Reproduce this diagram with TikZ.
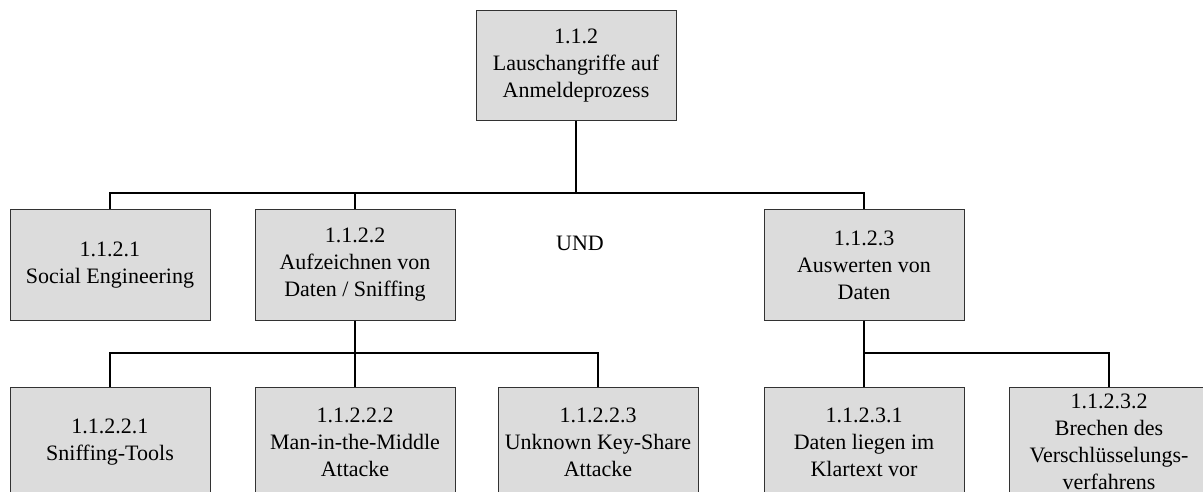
\documentclass[tikz,border=0pt]{standalone}
\usepackage{fontspec}
\setmainfont{Liberation Serif}
\definecolor{boxfill}{RGB}{220,220,220}
\definecolor{boxline}{RGB}{50,50,50}
\tikzset{
  tbox/.style={draw=boxline, line width=1pt, fill=boxfill, minimum width=200pt, minimum height=110pt, inner sep=0pt, align=center, font=\fontsize{22}{27}\selectfont},
  conn/.style={draw=black, line width=1.5pt},
  lbl/.style={font=\fontsize{22}{27}\selectfont, inner sep=0pt}
}
\begin{document}
\begin{tikzpicture}[x=1pt,y=-1pt]
\clip (0,0) rectangle (1203,492);
\fill[white] (0,0) rectangle (1203,492);
\node[tbox] (top) at (576,66) {1.1.2\\Lauschangriffe auf\\Anmeldeprozess};
\node[tbox] (a) at (110,265) {1.1.2.1\\Social Engineering};
\node[tbox] (b) at (355,265) {1.1.2.2\\Aufzeichnen von\\Daten / Sniffing};
\node[tbox] (c) at (864,265) {1.1.2.3\\Auswerten von\\Daten};
\node[lbl] (und) at (580,243) {UND};
\node[tbox] (b1) at (110,442) {1.1.2.2.1\\Sniffing-Tools};
\node[tbox] (b2) at (355,442) {1.1.2.2.2\\Man-in-the-Middle\\Attacke};
\node[tbox] (b3) at (598,442) {1.1.2.2.3\\Unknown Key-Share\\Attacke};
\node[tbox] (c1) at (864,442) {1.1.2.3.1\\Daten liegen im\\Klartext vor};
\node[tbox] (c2) at (1109,442) {1.1.2.3.2\\Brechen des\\Verschlüsselungs-\\verfahrens};
\coordinate (bus0) at (576,193);
\coordinate (bus1) at (355,353);
\coordinate (bus2) at (864,353);
\draw[conn] (top.south) -- (bus0);
\draw[conn] (bus0) -| (a.north);
\draw[conn] (bus0) -| (b.north);
\draw[conn] (bus0) -| (c.north);
\draw[conn] (b.south) -- (bus1);
\draw[conn] (bus1) -| (b1.north);
\draw[conn] (bus1) -- (b2.north);
\draw[conn] (bus1) -| (b3.north);
\draw[conn] (c.south) -- (bus2);
\draw[conn] (bus2) -- (c1.north);
\draw[conn] (bus2) -| (c2.north);
\end{tikzpicture}
\end{document}
